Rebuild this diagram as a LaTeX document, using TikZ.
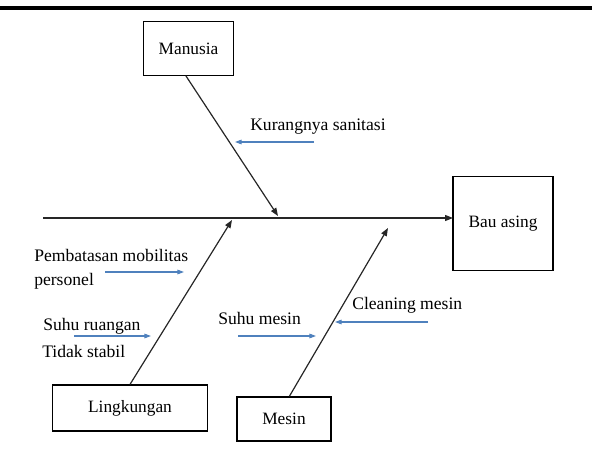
\documentclass[tikz,border=0pt]{standalone}
\usepackage{fontspec}
\setmainfont{Liberation Serif}
\usetikzlibrary{arrows.meta}
\definecolor{causeblue}{HTML}{4F81BD}
\begin{document}
\begin{tikzpicture}[x=0.75pt,y=-0.75pt,
  catbox/.style={draw=black,line width=0.9pt,fill=white,inner sep=0pt,font=\fontsize{13}{15}\selectfont},
  bone/.style={draw=black!85,line width=0.9pt,-{Triangle[length=6pt,width=4.5pt]}},
  causearrow/.style={draw=causeblue,line width=0.8pt,-{Triangle[length=5pt,width=3.5pt]}},
  lbl/.style={inner sep=0pt,font=\fontsize{13.2}{15}\selectfont,align=left}]
\useasboundingbox (0,0) rectangle (592,460);
% top rule
\draw[line width=2.4pt] (0,8) -- (592,8);

% boxes
\node[catbox,minimum width=68pt,minimum height=40pt] (man) at (188.5,48.5) {Manusia};
\node[catbox,minimum width=75pt,minimum height=70pt] (bau) at (503,223.5) {Bau asing};
\node[catbox,minimum width=116pt,minimum height=34.5pt] (ling) at (130,408) {Lingkungan};
\node[catbox,minimum width=70.5pt,minimum height=33pt] (mes) at (284,419) {Mesin};

% spine
\coordinate (tail) at (43,218);
\coordinate (head) at (453,218);
\draw[bone] (tail) -- (head);

% bones
\coordinate (manEnd) at (278,216);
\coordinate (lingEnd) at (232,220);
\coordinate (mesEnd) at (388,228);
\draw[bone] ([xshift=-2pt]man.south) -- (manEnd);
\draw[bone] (ling.north) -- (lingEnd);
\draw[bone] ([xshift=4pt]mes.north) -- (mesEnd);

% cause labels
\node[lbl,anchor=west] (kur) at (250,127) {Kurangnya sanitasi};
\node[lbl,anchor=west] (pem) at (34,255) {Pembatasan mobilitas};
\node[lbl,anchor=west] (per) at (34,281) {personel};
\node[lbl,anchor=west] (suh) at (43,326) {Suhu ruangan};
\node[lbl,anchor=west] (tid) at (42,351) {Tidak stabil};
\node[lbl,anchor=west] (sme) at (218,318) {Suhu mesin};
\node[lbl,anchor=west] (cle) at (352,305) {Cleaning mesin};

% cause arrows
\coordinate (k1) at (314,142); \coordinate (k2) at (235,142);
\coordinate (p1) at (105,272); \coordinate (p2) at (184,272);
\coordinate (s1) at (74,336);  \coordinate (s2) at (151,336);
\coordinate (m1) at (238,336); \coordinate (m2) at (316,336);
\coordinate (c1) at (428,322); \coordinate (c2) at (335,322);
\draw[causearrow] (k1) -- (k2);
\draw[causearrow] (p1) -- (p2);
\draw[causearrow] (s1) -- (s2);
\draw[causearrow] (m1) -- (m2);
\draw[causearrow] (c1) -- (c2);
\end{tikzpicture}
\end{document}
